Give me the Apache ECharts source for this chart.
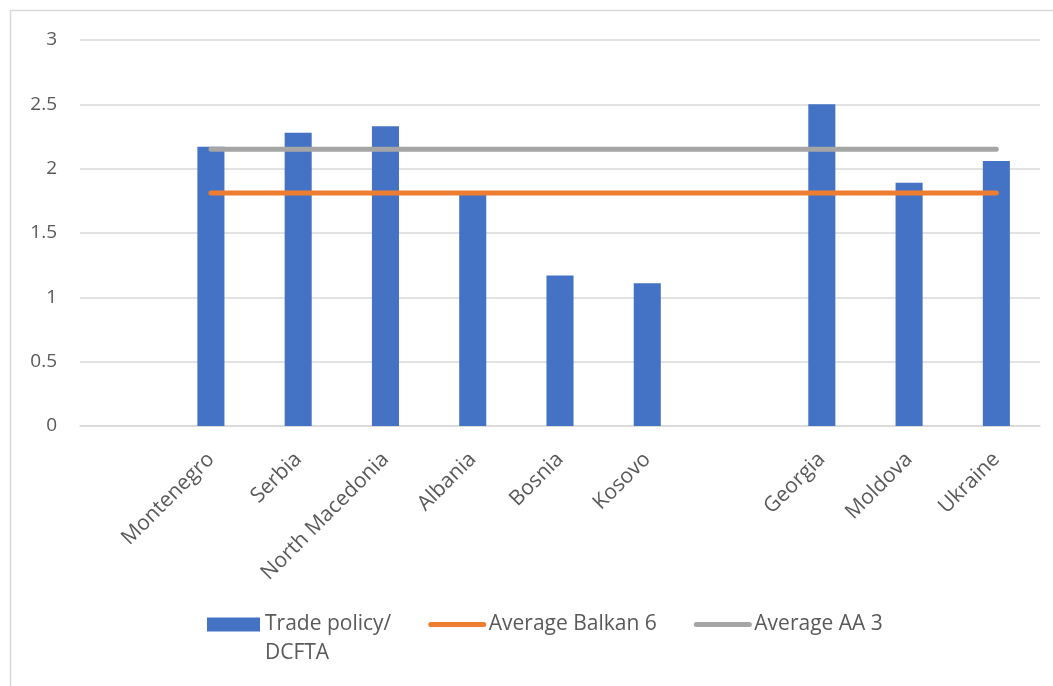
<!DOCTYPE html>
<html>
<head>
<meta charset="utf-8">
<script src="https://cdn.jsdelivr.net/npm/echarts@6/dist/echarts.min.js"></script>
<style>
  html, body { margin: 0; padding: 0; background: #ffffff; }
  #chart { width: 1053px; height: 686px; }
</style>
</head>
<body>
<div id="chart"></div>
<script>
// Countries along the x axis; blank slots separate the groups
const categories = ['', 'Montenegro', 'Serbia', 'North Macedonia', 'Albania', 'Bosnia', 'Kosovo', ' ', 'Georgia', 'Moldova', 'Ukraine'];

// Trade policy / DCFTA scores
const tradePolicy = [null, 2.17, 2.28, 2.33, 1.80, 1.17, 1.11, null, 2.50, 1.89, 2.06];

// Group averages drawn as flat reference lines
const averageBalkan6 = [null, 1.81, 1.81, 1.81, 1.81, 1.81, 1.81, 1.81, 1.81, 1.81, 1.81];
const averageAA3 = [null, 2.15, 2.15, 2.15, 2.15, 2.15, 2.15, 2.15, 2.15, 2.15, 2.15];

const yTicks = { min: 0, max: 3, interval: 0.5 };

const BAR_NAME = 'Trade policy/\nDCFTA';

const FONT = '"Open Sans", "Noto Sans", sans-serif';
const TEXT = '#595959';
const GRID = '#d9d9d9';

const chart = echarts.init(document.getElementById('chart'), null, { renderer: 'canvas' });

chart.setOption({
  animation: false,
  backgroundColor: '#ffffff',
  textStyle: { fontFamily: FONT },
  graphic: [{
    type: 'rect',
    shape: { x: 10.5, y: 10.5, width: 1100, height: 800 },
    style: { fill: 'none', stroke: GRID, lineWidth: 1.5 },
    silent: true,
    z: -1
  }],
  grid: { left: 80, right: 13, top: 40, bottom: 260, containLabel: false },
  xAxis: {
    type: 'category',
    data: categories,
    boundaryGap: true,
    axisLine: { show: true, lineStyle: { color: GRID, width: 1.5 } },
    axisTick: { show: false },
    axisLabel: {
      interval: 0,
      rotate: 45,
      margin: 30,
      color: TEXT,
      fontSize: 21,
      fontFamily: FONT
    },
    splitLine: { show: false }
  },
  yAxis: {
    type: 'value',
    min: yTicks.min,
    max: yTicks.max,
    interval: yTicks.interval,
    axisLine: { show: false },
    axisTick: { show: false },
    axisLabel: {
      margin: 23,
      color: TEXT,
      fontSize: 19,
      fontFamily: FONT
    },
    splitLine: { show: true, lineStyle: { color: GRID, width: 1.5 } }
  },
  legend: {
    left: 202,
    top: 576,
    itemGap: 37,
    itemWidth: 53,
    itemHeight: 14,
    lineStyle: { width: 5, cap: 'round' },
    textStyle: { color: TEXT, fontSize: 21, fontFamily: FONT, lineHeight: 29 },
    // leading blank line keeps the icon level with the first text line
    formatter: (name) => (name === BAR_NAME ? ' \n' + name : name),
    data: [
      { name: BAR_NAME, icon: 'rect' },
      { name: 'Average Balkan 6', itemStyle: { opacity: 0 } },
      { name: 'Average AA 3', itemStyle: { opacity: 0 } }
    ]
  },
  series: [
    {
      name: BAR_NAME,
      type: 'bar',
      data: tradePolicy,
      barWidth: '31%',
      itemStyle: { color: '#4472C4' },
      z: 2
    },
    {
      name: 'Average Balkan 6',
      type: 'line',
      data: averageBalkan6,
      symbol: 'none',
      lineStyle: { color: '#ED7D31', width: 5, cap: 'round' },
      itemStyle: { color: '#ED7D31' },
      z: 3
    },
    {
      name: 'Average AA 3',
      type: 'line',
      data: averageAA3,
      symbol: 'none',
      lineStyle: { color: '#A5A5A5', width: 5, cap: 'round' },
      itemStyle: { color: '#A5A5A5' },
      z: 3
    }
  ]
});
</script>
</body>
</html>
